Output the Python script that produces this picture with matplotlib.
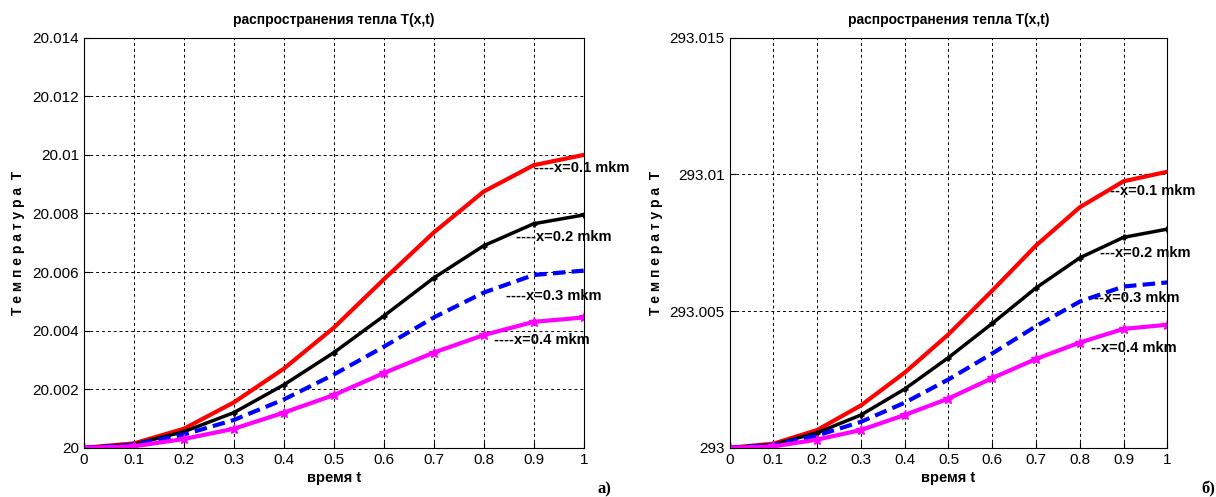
import matplotlib
matplotlib.use('Agg')
import matplotlib.pyplot as plt
import numpy as np

plt.rcParams['font.family'] = ['Liberation Sans Narrow', 'Liberation Sans', 'DejaVu Sans']

t = [0, 0.1, 0.2, 0.3, 0.4, 0.5, 0.6, 0.7, 0.8, 0.9, 1.0]

# left panel, offsets from 20 (x 1e-3)
a_x1 = [0, 0.15, 0.65, 1.55, 2.7, 4.1, 5.75, 7.35, 8.75, 9.65, 10.0]
a_x2 = [0, 0.12, 0.55, 1.2, 2.15, 3.25, 4.5, 5.8, 6.9, 7.65, 7.95]
a_x3 = [0, 0.1, 0.45, 0.95, 1.65, 2.5, 3.45, 4.45, 5.3, 5.9, 6.05]
a_x4 = [0, 0.05, 0.3, 0.65, 1.2, 1.8, 2.55, 3.25, 3.85, 4.3, 4.45]

# right panel, offsets from 293 (x 1e-3)
b_x1 = [0, 0.15, 0.65, 1.55, 2.75, 4.15, 5.75, 7.4, 8.8, 9.75, 10.1]
b_x2 = [0, 0.12, 0.55, 1.2, 2.15, 3.3, 4.55, 5.85, 6.95, 7.7, 8.0]
b_x3 = [0, 0.1, 0.45, 0.95, 1.65, 2.5, 3.45, 4.45, 5.35, 5.9, 6.05]
b_x4 = [0, 0.05, 0.3, 0.65, 1.2, 1.8, 2.55, 3.25, 3.85, 4.35, 4.5]

a_labels = ['----x=0.1 mkm', '----x=0.2 mkm', '----x=0.3 mkm', '----x=0.4 mkm']
b_labels = ['--x=0.1 mkm', '---x=0.2 mkm', '--x=0.3 mkm', '--x=0.4 mkm']
a_lab_pos = [(0.90, 9.56), (0.865, 7.2), (0.845, 5.19), (0.82, 3.69)]
b_lab_pos = [(0.868, 9.41), (0.845, 7.13), (0.833, 5.48), (0.826, 3.64)]

a_yticks = [0, 2, 4, 6, 8, 10, 12, 14]
a_yticklabels = ['20', '20.002', '20.004', '20.006', '20.008', '20.01', '20.012', '20.014']
b_yticks = [0, 5, 10, 15]
b_yticklabels = ['293', '293.005', '293.01', '293.015']
xticklabels = ['0', '0.1', '0.2', '0.3', '0.4', '0.5', '0.6', '0.7', '0.8', '0.9', '1']

fig = plt.figure(figsize=(12.16, 4.97), dpi=100)
ax1 = fig.add_axes([0.069, 0.099, 0.411, 0.825])
ax2 = fig.add_axes([0.600, 0.099, 0.360, 0.825])


def draw(ax, s1, s2, s3, s4, labels, pos, yt, ytl, ymax):
    ax.plot(t, s1, color='red', lw=3)
    ax.plot(t, s2, color='black', lw=2.5, marker='+', ms=5, mew=2)
    ax.plot(t, s3, color='blue', lw=3, ls=(0, (3, 1.5)))
    ax.plot(t, s4, color='magenta', lw=3, marker='*', ms=7)
    for lab, (px, py) in zip(labels, pos):
        ax.text(px, py, lab, fontsize=10.5, fontweight='bold', va='center',
                ha='left', clip_on=False)
    ax.set_xlim(0, 1)
    ax.set_ylim(0, ymax)
    ax.set_xticks(t)
    ax.set_xticklabels(xticklabels, fontsize=11)
    ax.set_yticks(yt)
    ax.set_yticklabels(ytl, fontsize=11)
    ax.grid(True, color='black', ls=(0, (3, 3)), lw=0.7)
    ax.tick_params(direction='in', length=4)
    ax.set_xlabel('время t', fontsize=10.5, fontweight='bold', labelpad=3)
    ax.set_ylabel('Т е м п е р а т у р а  Т', fontsize=10, fontweight='bold', labelpad=5)
    ax.set_title('распространения тепла T(x,t)', fontsize=10, fontweight='bold', pad=10)


draw(ax1, a_x1, a_x2, a_x3, a_x4, a_labels, a_lab_pos, a_yticks, a_yticklabels, 14)
draw(ax2, b_x1, b_x2, b_x3, b_x4, b_labels, b_lab_pos, b_yticks, b_yticklabels, 15)

fig.text(0.491, 0.008, 'а)', fontsize=12, fontweight='bold', family=['Liberation Serif'])
fig.text(0.988, 0.008, 'б)', fontsize=12, fontweight='bold', family=['Liberation Serif'])

fig.savefig('out.png', dpi=100)
